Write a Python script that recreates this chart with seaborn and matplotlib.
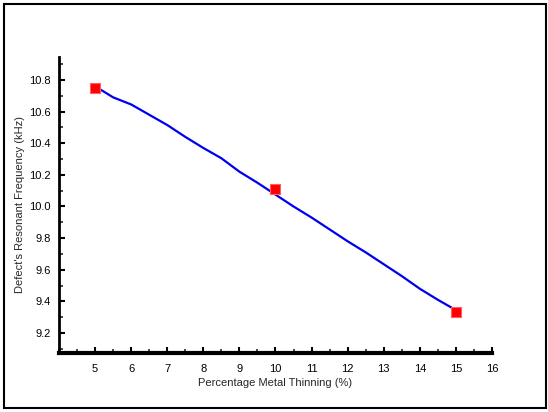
import matplotlib
matplotlib.use("Agg")
import matplotlib.pyplot as plt
import seaborn as sns
import pandas as pd
from matplotlib.ticker import MultipleLocator
from matplotlib.patches import Rectangle

# Data
line_x = [5.0, 5.5, 6.0, 6.5, 7.0, 7.5, 8.0, 8.5, 9.0, 9.5, 10.0, 10.5, 11.0, 11.5, 12.0, 12.5, 13.0, 13.5, 14.0, 14.5, 15.0]
line_y = [10.76, 10.69, 10.645, 10.58, 10.515, 10.44, 10.37, 10.305, 10.22, 10.15, 10.075, 10.0, 9.93, 9.855, 9.78, 9.71, 9.635, 9.56, 9.48, 9.41, 9.345]
pts_x = [5, 10, 15]
pts_y = [10.75, 10.11, 9.335]

sns.set_style("white")
plt.rcParams['font.family'] = ['Liberation Sans', 'DejaVu Sans']

fig = plt.figure(figsize=(5.48, 4.12), dpi=100)
ax = fig.add_axes([0.1077, 0.143, 0.790, 0.719])

df_line = pd.DataFrame({"x": line_x, "y": line_y})
df_pts = pd.DataFrame({"x": pts_x, "y": pts_y})
sns.lineplot(data=df_line, x="x", y="y", ax=ax, color="#0000ee", linewidth=1.6)
sns.scatterplot(data=df_pts, x="x", y="y", ax=ax, marker="s", s=42, color="#ff0000",
                edgecolor="#ff6060", linewidth=0.8, zorder=5)

ax.set_xlim(4, 16)
ax.set_ylim(9.073, 10.946)
ax.xaxis.set_minor_locator(MultipleLocator(0.5))
ax.yaxis.set_minor_locator(MultipleLocator(0.1))
ax.set_xticks(range(5, 17))
ax.set_yticks([9.2, 9.4, 9.6, 9.8, 10.0, 10.2, 10.4, 10.6, 10.8])
ax.set_yticklabels(["9.2", "9.4", "9.6", "9.8", "10.0", "10.2", "10.4", "10.6", "10.8"])
ax.tick_params(axis="both", which="major", direction="in", length=4, width=1.5,
               labelsize=8, pad=6, colors="black", left=True, bottom=True)
ax.tick_params(axis="both", which="minor", direction="in", length=3, width=1.2,
               left=True, bottom=True)
ax.tick_params(axis="x", pad=8)

for side in ["top", "right"]:
    ax.spines[side].set_visible(False)
ax.spines["left"].set_linewidth(2)
ax.spines["bottom"].set_linewidth(3)
ax.spines["left"].set_color("black")
ax.spines["bottom"].set_color("black")

ax.set_xlabel("Percentage Metal Thinning (%)", fontsize=8, labelpad=3)
ax.set_ylabel("Defect's Resonant Frequency (kHz)", fontsize=8, labelpad=3)

fig.patches.append(Rectangle((4/548, 4/412), 542/548, 404/412, transform=fig.transFigure,
                             fill=False, edgecolor="black", linewidth=1.5))

fig.savefig("out.png", dpi=100)
